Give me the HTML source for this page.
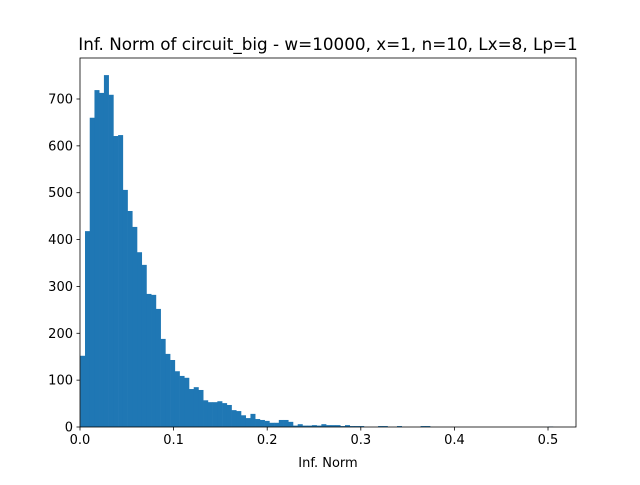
<!DOCTYPE html>
<html><head><meta charset="utf-8"><style>
body{margin:0;background:#fff;}
svg text{font-family:"DejaVu Sans","Liberation Sans",sans-serif;}
</style></head><body>
<svg id="chart" width="640" height="480">
<rect width="640" height="480" fill="#fff"/>
<text x="328" y="50" font-size="16.8" text-anchor="middle">Inf. Norm of circuit_big - w=10000, x=1, n=10, Lx=8, Lp=1</text>
<g id="bars"></g>
<g id="axes"></g>
<text x="328" y="467" font-size="13" text-anchor="middle">Inf. Norm</text>
</svg>
<script>
const binStart = 0.0003;
const binWidth = 0.00505;
const counts = [152,418,660,719,713,751,709,621,623,506,461,427,373,346,284,282,252,188,156,143,119,109,105,
81,85,79,57,53,53,55,51,47,36,34,25,19,28,17,15,13,9,9,15,15,11,3,6,3,3,4,3,6,4,4,4,2,4,2,2,2,
0,0,0,2,2,0,0,2,0,0,0,0,2,2,0,0,0,0,0,0,0,0,0,0,0,0,0,0,0,0,0,0,0,0,0,0,0,0,0,1];
const xTicks = [0,0.1,0.2,0.3,0.4,0.5];
const xTickLabels = ["0.0","0.1","0.2","0.3","0.4","0.5"];
const yTicks = [0,100,200,300,400,500,600,700];
const L=80,R=576,T=58,B=427, xMax=0.5299, yMax=787.5;
const sx=v=>L+v/xMax*(R-L);
const sy=v=>B-v/yMax*(B-T);
const NS="http://www.w3.org/2000/svg";
const bars=document.getElementById('bars'), axes=document.getElementById('axes');
counts.forEach((c,i)=>{
  if(c<=0) return;
  const r=document.createElementNS(NS,'rect');
  const x0=sx(binStart+i*binWidth), x1=sx(binStart+(i+1)*binWidth);
  r.setAttribute('x',x0);r.setAttribute('width',x1-x0+0.3);
  r.setAttribute('y',sy(c));r.setAttribute('height',B-sy(c));
  r.setAttribute('fill','#1f77b4');
  
  
  bars.appendChild(r);
});
const frame=document.createElementNS(NS,'rect');
frame.setAttribute('x',L);frame.setAttribute('y',T);frame.setAttribute('width',R-L);frame.setAttribute('height',B-T);
frame.setAttribute('fill','none');frame.setAttribute('stroke','#000');frame.setAttribute('stroke-width','0.8');


axes.appendChild(frame);
xTicks.forEach((v,i)=>{
  const x=sx(v);
  const l=document.createElementNS(NS,'line');
  l.setAttribute('x1',x);l.setAttribute('x2',x);l.setAttribute('y1',B);l.setAttribute('y2',B+3.5);
  l.setAttribute('stroke','#000');l.setAttribute('stroke-width','0.8');
  
  
  axes.appendChild(l);
  const t=document.createElementNS(NS,'text');
  t.setAttribute('x',x);t.setAttribute('y',B+17);t.setAttribute('font-size','13');t.setAttribute('text-anchor','middle');
  t.textContent=xTickLabels[i];
  
  
  axes.appendChild(t);
});
yTicks.forEach(v=>{
  const y=sy(v);
  const l=document.createElementNS(NS,'line');
  l.setAttribute('x1',L-3.5);l.setAttribute('x2',L);l.setAttribute('y1',y);l.setAttribute('y2',y);
  l.setAttribute('stroke','#000');l.setAttribute('stroke-width','0.8');
  
  
  axes.appendChild(l);
  const t=document.createElementNS(NS,'text');
  t.setAttribute('x',L-7);t.setAttribute('y',y+4.5);t.setAttribute('font-size','13');t.setAttribute('text-anchor','end');
  t.textContent=String(v);
  
  
  axes.appendChild(t);
});
</script>
</body></html>
